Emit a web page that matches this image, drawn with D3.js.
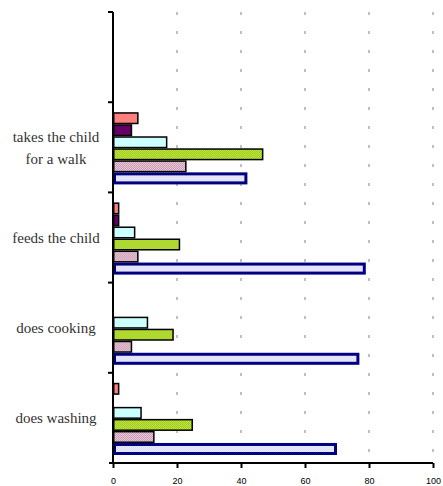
<!DOCTYPE html>
<html><head><meta charset="utf-8">
<script src="https://cdn.jsdelivr.net/npm/d3@7"></script>
<style>body{margin:0;background:#fff}svg{display:block}</style>
</head><body>
<script>
// Data
const categories = ["does washing", "does cooking", "feeds the child", "takes the child for a walk", ""];
const categoryLines = [["does washing"], ["does cooking"], ["feeds the child"], ["takes the child", "for a walk"], []];
const seriesNames = ["s1", "s2", "s3", "s4", "s5", "s6"]; // bottom-to-top within each group
const blueVals   = [70, 77, 79, 42, null];
const pinkVals   = [13, 6, 8, 23, null];
const greenVals  = [25, 19, 21, 47, null];
const cyanVals   = [9, 11, 7, 17, null];
const purpleVals = [0, 0, 2, 6, null];
const salmonVals = [2, 0, 2, 8, null];
const seriesValues = [blueVals, pinkVals, greenVals, cyanVals, purpleVals, salmonVals];
const xTicks = [0, 20, 40, 60, 80, 100];

const W = 443, H = 486;
const svg = d3.select("body").append("svg").attr("width", W).attr("height", H);
const defs = svg.append("defs");

function checker(id, c1, c2) {
  const p = defs.append("pattern").attr("id", id).attr("width", 2).attr("height", 2)
    .attr("patternUnits", "userSpaceOnUse");
  p.append("rect").attr("width", 2).attr("height", 2).attr("fill", c1);
  p.append("rect").attr("width", 1).attr("height", 1).attr("fill", c2);
  p.append("rect").attr("x", 1).attr("y", 1).attr("width", 1).attr("height", 1).attr("fill", c2);
}
checker("pBlue", "#dcdcf6", "#ececff");
checker("pPink", "#c48aa8", "#f0d8e4");
checker("pGreen", "#99cc00", "#c4e460");

const styles = [
  {fill: "url(#pBlue)", stroke: "#000080", sw: 3},
  {fill: "url(#pPink)", stroke: "#000", sw: 1.5},
  {fill: "url(#pGreen)", stroke: "#000", sw: 1.5},
  {fill: "#ccffff", stroke: "#000", sw: 1.5},
  {fill: "#660066", stroke: "#000", sw: 1.5},
  {fill: "#ff7f7f", stroke: "#000", sw: 1.5}
];

const x0 = 113, x1 = 433, yTop = 12, yBot = 463;
const x = d3.scaleLinear().domain([0, 100]).range([x0, x1]);
const y = d3.scaleBand().domain(d3.range(categories.length)).range([yBot, yTop]).paddingInner(0).paddingOuter(0);
const yIn = d3.scaleBand().domain(d3.range(seriesNames.length)).range([y.bandwidth() - 8, 10]);

// gridlines
svg.append("g").selectAll("line").data(xTicks.slice(1)).join("line")
  .attr("x1", d => x(d)).attr("x2", d => x(d))
  .attr("y1", yTop).attr("y2", yBot)
  .attr("stroke", "#808080").attr("stroke-width", 1)
  .attr("stroke-dasharray", "3,16");

// bars
const groups = svg.append("g").selectAll("g").data(categories).join("g")
  .attr("transform", (d, i) => `translate(0,${y(i)})`);
groups.each(function (c, ci) {
  const g = d3.select(this);
  seriesValues.forEach((vals, si) => {
    const v = vals[ci];
    if (v == null || v <= 0) return;
    const st = styles[si];
    const inset = st.sw / 2;
    g.append("rect")
      .attr("x", x(0) + inset)
      .attr("y", yIn(si) + inset)
      .attr("width", Math.max(0, x(v) - x(0) - 2 * inset))
      .attr("height", yIn.bandwidth() - 2 * inset)
      .attr("fill", st.fill).attr("stroke", st.stroke).attr("stroke-width", st.sw);
  });
});

// y axis
const yAxisG = svg.append("g");
yAxisG.append("line").attr("x1", x0).attr("x2", x0).attr("y1", yTop).attr("y2", yBot + 1)
  .attr("stroke", "#000").attr("stroke-width", 2);
const yEdges = d3.range(categories.length).map(i => y(i)).concat([yTop]);
yAxisG.selectAll("line.t").data(yEdges).join("line").attr("class", "t")
  .attr("x1", x0 - 5).attr("x2", x0).attr("y1", d => d).attr("y2", d => d)
  .attr("stroke", "#000").attr("stroke-width", 2);

// category labels
categoryLines.forEach((lines, i) => {
  const cy = y(i) + y.bandwidth() / 2;
  const n = lines.length;
  lines.forEach((t, k) => {
    svg.append("text")
      .attr("x", 56).attr("y", cy + (k - (n - 1) / 2) * 22)
      .attr("dy", "0.35em")
      .attr("text-anchor", "middle")
      .attr("font-family", "Liberation Serif, serif")
      .attr("font-size", 15)
      .attr("letter-spacing", "0px")
      .attr("fill", "#333")
      .text(t);
  });
});

// x axis
const xAxis = d3.axisBottom(x).tickValues(xTicks).tickSize(5).tickPadding(10).tickFormat(d3.format("d"));
const xg = svg.append("g").attr("transform", `translate(0,${yBot})`).call(xAxis);
xg.select(".domain").attr("d", `M${x0 - 4},0H${x1}`).attr("stroke", "#000").attr("stroke-width", 2);
xg.selectAll(".tick line").attr("stroke", "#000").attr("stroke-width", 2);
xg.selectAll(".tick text").attr("font-family", "Liberation Sans, Arial, sans-serif").attr("font-size", 9).attr("fill", "#000");
</script>
</body></html>
